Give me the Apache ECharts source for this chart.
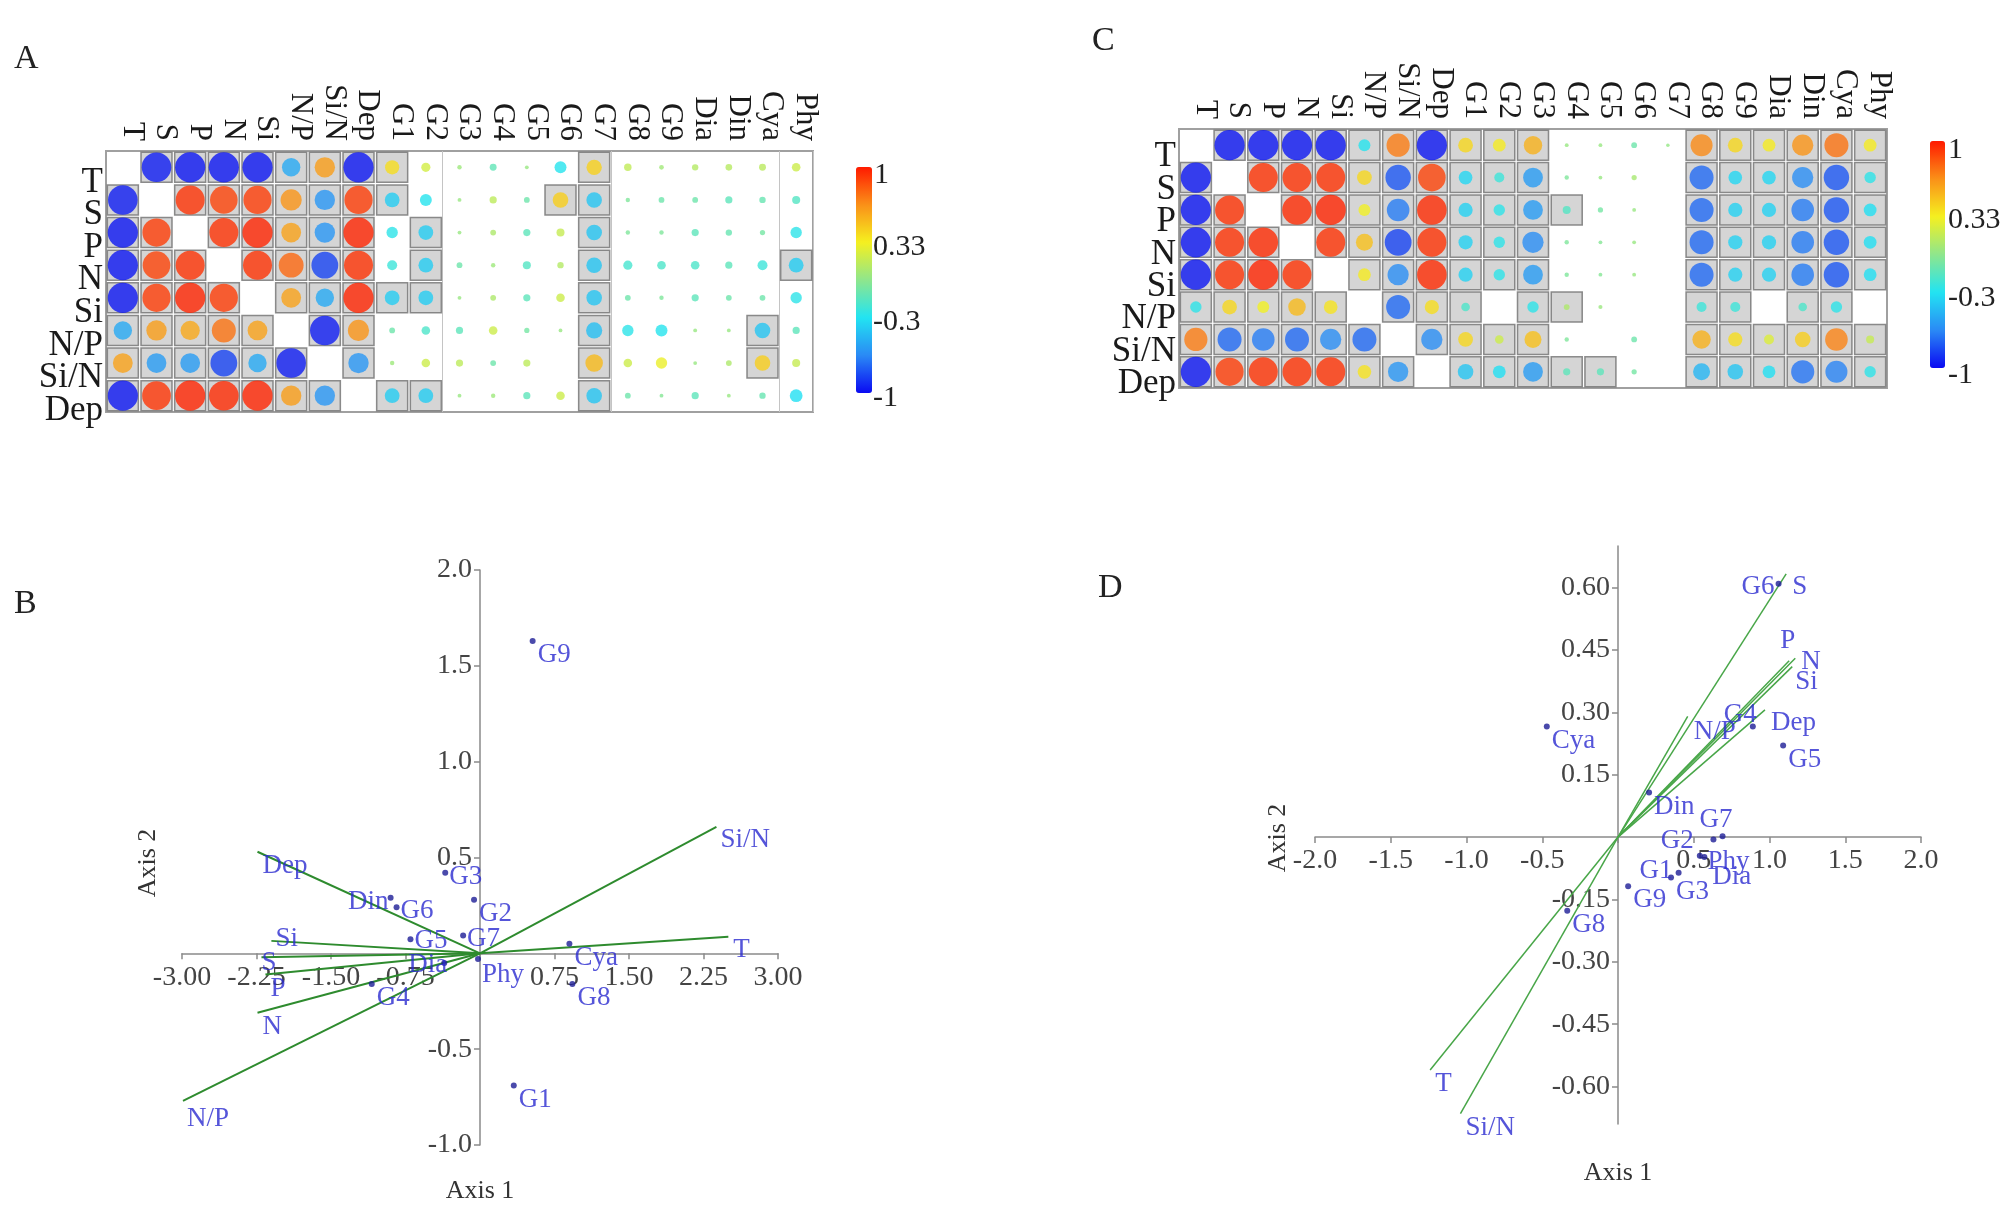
<!DOCTYPE html>
<html><head><meta charset="utf-8">
<script src="https://cdn.jsdelivr.net/npm/echarts@6/dist/echarts.min.js"></script>
<style>html,body{margin:0;padding:0;background:#fff}#c{width:2014px;height:1223px}</style>
</head><body><div id="c"></div>
<script>
// ---------- DATA ----------
const colLabels = ['T','S','P','N','Si','N/P','Si/N','Dep','G1','G2','G3','G4','G5','G6','G7','G8','G9','Dia','Din','Cya','Phy'];
const rowLabels = ['T','S','P','N','Si','N/P','Si/N','Dep'];

// Panel A: correlation coefficients (null = blank cell)
const corrA_T   = [null,-0.95,-0.97,-0.97,-0.97,-0.55,0.62,-0.97, 0.40,0.22,0.05,-0.14,0.03,-0.32,0.44, 0.16,0.06,0.12,0.13,0.14,0.20];
const corrA_S   = [-0.95,null,0.93,0.88,0.90,0.65,-0.62,0.90, -0.42,-0.32,0.03,0.15,-0.10,0.45,-0.45, -0.05,-0.10,-0.10,-0.15,-0.12,-0.18];
const corrA_P   = [-0.97,0.90,null,0.93,0.97,0.60,-0.62,0.97, -0.30,-0.42,0.03,0.10,-0.15,0.18,-0.45, -0.05,-0.05,-0.15,-0.12,-0.08,-0.30];
const corrA_N   = [-0.97,0.88,0.93,null,0.93,0.78,-0.85,0.93, -0.25,-0.42,-0.10,0.05,-0.18,0.12,-0.45, -0.22,-0.20,-0.20,-0.15,-0.25,-0.42];
const corrA_Si  = [-0.97,0.90,0.97,0.90,null,0.60,-0.55,0.97, -0.42,-0.42,0.03,0.10,-0.15,0.20,-0.45, -0.10,-0.05,-0.15,-0.10,-0.10,-0.30];
const corrA_NP  = [-0.55,0.62,0.58,0.75,0.60,null,-0.95,0.65, -0.10,-0.20,-0.15,0.20,-0.08,0.03,-0.47, -0.30,-0.32,0.03,0.03,-0.45,-0.15];
const corrA_SiN = [0.60,-0.60,-0.60,-0.85,-0.55,-0.95,null,-0.62, 0.05,0.20,0.15,-0.10,0.15,null,0.52, 0.20,0.30,0.03,0.10,0.45,0.18];
const corrA_Dep = [-0.97,0.92,0.97,0.95,0.97,0.62,-0.62,null, -0.42,-0.42,0.03,0.05,-0.15,0.20,-0.45, -0.10,-0.03,-0.15,0.03,-0.12,-0.35];
const sigA_T   = [0,1,1,1,1,1,1,1, 1,0,0,0,0,0,1, 0,0,0,0,0,0];
const sigA_S   = [1,0,1,1,1,1,1,1, 1,0,0,0,0,1,1, 0,0,0,0,0,0];
const sigA_P   = [1,1,0,1,1,1,1,1, 0,1,0,0,0,0,1, 0,0,0,0,0,0];
const sigA_N   = [1,1,1,0,1,1,1,1, 0,1,0,0,0,0,1, 0,0,0,0,0,1];
const sigA_Si  = [1,1,1,1,0,1,1,1, 1,1,0,0,0,0,1, 0,0,0,0,0,0];
const sigA_NP  = [1,1,1,1,1,0,1,1, 0,0,0,0,0,0,1, 0,0,0,0,1,0];
const sigA_SiN = [1,1,1,1,1,1,0,1, 0,0,0,0,0,0,1, 0,0,0,0,1,0];
const sigA_Dep = [1,1,1,1,1,1,1,0, 1,1,0,0,0,0,1, 0,0,0,0,0,0];

// Panel C
const corrC_T   = [null,-0.97,-0.97,-0.97,-0.97,-0.32,0.72,-0.97, 0.42,0.35,0.55,0.03,0.03,-0.10,0.02, 0.68,0.42,0.35,0.65,0.75,0.35];
const corrC_S   = [-0.97,null,0.93,0.93,0.93,0.42,-0.80,0.88, -0.38,-0.25,-0.60,-0.05,0.03,0.08,null, -0.75,-0.38,-0.38,-0.65,-0.80,-0.30];
const corrC_P   = [-0.97,0.93,null,0.95,0.97,0.32,-0.70,0.95, -0.40,-0.30,-0.60,-0.18,-0.08,0.03,null, -0.75,-0.40,-0.40,-0.70,-0.80,-0.35];
const corrC_N   = [-0.97,0.93,0.95,null,0.93,0.50,-0.85,0.93, -0.40,-0.30,-0.65,-0.05,-0.03,0.03,null, -0.75,-0.40,-0.40,-0.70,-0.80,-0.35];
const corrC_Si  = [-0.97,0.93,0.97,0.93,null,0.35,-0.65,0.95, -0.40,-0.30,-0.60,-0.05,-0.03,0.03,null, -0.75,-0.40,-0.40,-0.70,-0.80,-0.35];
const corrC_NP  = [-0.30,0.42,0.32,0.52,0.38,null,-0.75,0.40, -0.20,null,-0.30,0.10,0.04,null,null, -0.25,-0.25,null,-0.20,-0.30,null];
const corrC_SiN = [0.72,-0.75,-0.70,-0.75,-0.65,-0.75,null,-0.65, 0.42,0.20,0.50,-0.05,null,-0.10,null, 0.55,0.40,0.25,0.45,0.70,0.18];
const corrC_Dep = [-0.97,0.90,0.93,0.93,0.93,0.38,-0.62,null, -0.45,-0.35,-0.60,-0.15,-0.15,-0.08,null, -0.50,-0.45,-0.35,-0.72,-0.68,-0.30];
const sigC_T   = [0,1,1,1,1,1,1,1, 1,1,1,0,0,0,0, 1,1,1,1,1,1];
const sigC_S   = [1,0,1,1,1,1,1,1, 1,1,1,0,0,0,0, 1,1,1,1,1,1];
const sigC_P   = [1,1,0,1,1,1,1,1, 1,1,1,1,0,0,0, 1,1,1,1,1,1];
const sigC_N   = [1,1,1,0,1,1,1,1, 1,1,1,0,0,0,0, 1,1,1,1,1,1];
const sigC_Si  = [1,1,1,1,0,1,1,1, 1,1,1,0,0,0,0, 1,1,1,1,1,1];
const sigC_NP  = [1,1,1,1,1,0,1,1, 1,0,1,1,0,0,0, 1,1,0,1,1,0];
const sigC_SiN = [1,1,1,1,1,1,0,1, 1,1,1,0,0,0,0, 1,1,1,1,1,1];
const sigC_Dep = [1,1,1,1,1,1,1,0, 1,1,1,1,1,0,0, 1,1,1,1,1,1];

const colorbarLabels = ['1','0.33','-0.3','-1'];

// Panel B (Axis 1, Axis 2)
const envNames  = ['T','S','P','N','Si','N/P','Si/N','Dep'];
const bEnvX = [2.50,-2.20,-2.16,-2.24,-2.10,-2.99,2.38,-2.24];
const bEnvY = [0.086,-0.02,-0.11,-0.31,0.065,-0.77,0.66,0.53];
const taxaNames = ['G1','G2','G3','G4','G5','G6','G7','G8','G9','Dia','Din','Cya','Phy'];
const bTaxX = [0.34,-0.06,-0.35,-1.09,-0.70,-0.84,-0.17,0.93,0.53,-0.36,-0.90,0.90,-0.02];
const bTaxY = [-0.69,0.28,0.42,-0.16,0.074,0.24,0.093,-0.16,1.63,-0.05,0.29,0.05,-0.03];

// Panel D
const dEnvX = [-1.24,1.11,1.13,1.17,1.15,0.46,-1.04,0.97];
const dEnvY = [-0.56,0.633,0.424,0.43,0.41,0.29,-0.665,0.306];
const dTaxX = [0.40,0.54,0.35,0.89,1.09,1.06,0.69,-0.335,0.067,0.57,0.205,-0.47,0.63];
const dTaxY = [-0.086,-0.045,-0.097,0.266,0.22,0.609,0.002,-0.177,-0.118,-0.048,0.107,0.266,-0.006];
const dYTicks = [-0.60,-0.45,-0.30,-0.15,0.15,0.30,0.45,0.60];

// ---------- BUILD ----------
const FF = "'Liberation Serif','Times New Roman',serif";
const corrA = [corrA_T,corrA_S,corrA_P,corrA_N,corrA_Si,corrA_NP,corrA_SiN,corrA_Dep];
const sigA  = [sigA_T,sigA_S,sigA_P,sigA_N,sigA_Si,sigA_NP,sigA_SiN,sigA_Dep];
const corrC = [corrC_T,corrC_S,corrC_P,corrC_N,corrC_Si,corrC_NP,corrC_SiN,corrC_Dep];
const sigC  = [sigC_T,sigC_S,sigC_P,sigC_N,sigC_Si,sigC_NP,sigC_SiN,sigC_Dep];

function circleData(corr){const o=[];corr.forEach((r,ri)=>r.forEach((v,ci)=>{if(v!==null)o.push([ci,ri,v]);}));return o;}
function sigData(sig){const o=[];sig.forEach((r,ri)=>r.forEach((v,ci)=>{if(v)o.push([ci,ri]);}));return o;}

const jet = ['#0a0af2','#2a8af5','#22e4f2','#8fe68c','#f5f020','#fa9018','#ff1a00'];

// label placement style (offsets in px relative to point), default right-below
const bOff = {G3:[4,4],G6:[4,4],G5:[4,2],G7:[4,3],Din:[-2,4,'right'],Dia:[3,2,'right'],Phy:[4,16],
              Si:[4,-2],S:[0,6],'N/P':[4,18],T:[5,13],'Si/N':[4,13]};
const dOff = {G6:[-4,3,'right'],S:[6,13],P:[-9,-20],N:[6,4],Si:[3,15],Dep:[6,13],'N/P':[6,15],
              G4:[4,-12,'right'],G7:[-23,-16],G2:[-6,-15,'right'],G1:[-6,-2,'right'],Dia:[8,20],Phy:[-6,22],G3:[5,14]};

function labelFor(name, offs){
  const o = offs[name] || [5,14,'left'];
  return {show:true, formatter:name, position:'inside', align:o[2]||'left', verticalAlign:'middle',
    offset:[o[0],o[1]], color:'#2b2bcf', fontSize:27, fontFamily:FF};
}

function biplotSeries(gi, ex, ey, tx, ty, offs, lineColor, lineW){
  const s=[];
  envNames.forEach((n,i)=>{
    s.push({type:'line', xAxisIndex:gi, yAxisIndex:gi, data:[[0,0],[ex[i],ey[i]]], showSymbol:false, symbol:'none',
      lineStyle:{color:lineColor,width:lineW}, z:3, silent:true});
  });
  s.push({type:'scatter', xAxisIndex:gi, yAxisIndex:gi, symbolSize:1, itemStyle:{color:'rgba(0,0,0,0)'}, z:5,
    data: envNames.map((n,i)=>({value:[ex[i],ey[i]], label:labelFor(n,offs)}))});
  s.push({type:'scatter', xAxisIndex:gi, yAxisIndex:gi, symbolSize:6, itemStyle:{color:'#1d1d96'}, z:6,
    data: taxaNames.map((n,i)=>({value:[tx[i],ty[i]], label:labelFor(n,offs)}))});
  return s;
}

const catX = (gi, lh, extraSplit) => ({type:'category', gridIndex:gi, data:colLabels, position:'top',
  axisLine:{show:false}, axisTick:{show:false},
  axisLabel:{rotate:90, fontSize:31, fontFamily:FF, color:'#1a1a1a', margin:10, verticalAlign:'bottom', lineHeight:lh, interval:0},
  splitLine:{show:!!extraSplit, interval:(i)=>extraSplit?extraSplit.indexOf(i)>=0:false, lineStyle:{color:'#c4c4c4',width:1}}});
const catY = (gi, lh) => ({type:'category', gridIndex:gi, data:rowLabels, inverse:true,
  axisLine:{show:false}, axisTick:{show:false},
  axisLabel:{fontSize:35, fontFamily:FF, color:'#1a1a1a', margin:3, verticalAlign:'top', lineHeight:lh, interval:0},
  splitLine:{show:false}});

// grids for the biplots
const gB = {left:182, top:570, width:596, height:575};
const gD = {left:1315, top:546, width:606, height:578};
const bX = [-3,3], bY = [-1,2], dX = [-2,2], dY = [-0.69,0.70];
// shift axes so that they cross at the origin (offset from grid edge)
const xOff = (g,yr)=>-(g.height*(0-yr[0])/(yr[1]-yr[0]));
const yOff = (g,xr)=>-(g.width*(0-xr[0])/(xr[1]-xr[0]));

const axisCommon = {axisLine:{onZero:false, lineStyle:{color:'#8a8a8a', width:1.5}},
  axisTick:{length:6, lineStyle:{color:'#8a8a8a', width:1.5}}, splitLine:{show:false}};
const lbl = (dec,margin)=>({formatter:v=>Math.abs(v)<1e-9?'':v.toFixed(dec), fontSize:28, fontFamily:FF, color:'#444', margin});

const sq = (gi, sig, size)=>({type:'scatter', xAxisIndex:gi, yAxisIndex:gi, symbol:'rect', symbolSize:size,
  itemStyle:{color:'#cbcbcb', borderColor:'#707070', borderWidth:1.5}, data:sigData(sig), z:2, silent:true});
const circ = (gi, corr)=>({type:'scatter', xAxisIndex:gi, yAxisIndex:gi, symbol:'circle',
  symbolSize:(v)=>3+Math.abs(v[2])*28, data:circleData(corr), z:4, silent:true});

function txt(t,x,y,size,extra){return Object.assign({type:'text', x, y, style:Object.assign({text:t, font:size+'px '+FF, fill:'#222', align:'left', verticalAlign:'middle'}, extra&&extra.style||{})}, extra&&extra.el||{});}

const option = {
  animation:false,
  backgroundColor:'#fff',
  grid:[
    {left:106, top:151, width:707, height:261, show:true, borderColor:'#a0a0a0', borderWidth:2, backgroundColor:'#fff'},
    {left:1179, top:129, width:708, height:259, show:true, borderColor:'#a0a0a0', borderWidth:2, backgroundColor:'#fff'},
    gB, gD
  ],
  xAxis:[
    catX(0, 18, [10,15,20]),
    catX(1, 18, null),
    Object.assign({type:'value', gridIndex:2, min:bX[0], max:bX[1], interval:0.75, position:'bottom', offset:xOff(gB,bY),
      axisLabel:lbl(2,10)}, axisCommon),
    Object.assign({type:'value', gridIndex:3, min:dX[0], max:dX[1], interval:0.5, position:'bottom', offset:xOff(gD,dY),
      axisLabel:lbl(1,10)}, axisCommon)
  ],
  yAxis:[
    catY(0, 30),
    catY(1, 24),
    Object.assign({type:'value', gridIndex:2, min:bY[0], max:bY[1], interval:0.5, position:'left', offset:yOff(gB,bX),
      axisLabel:lbl(1,8)}, axisCommon),
    Object.assign({type:'value', gridIndex:3, min:dY[0], max:dY[1], position:'left', offset:yOff(gD,dX)},
      axisCommon,
      {axisTick:{length:6, lineStyle:{color:'#8a8a8a', width:1.5}, customValues:dYTicks},
       axisLabel:Object.assign(lbl(2,8),{customValues:dYTicks})})
  ],
  visualMap:[
    {type:'continuous', min:-1, max:1, seriesIndex:1, dimension:2, left:856, top:167, itemWidth:16, itemHeight:226,
     calculable:false, text:null, padding:0, inRange:{color:jet}},
    {type:'continuous', min:-1, max:1, seriesIndex:3, dimension:2, left:1930, top:141, itemWidth:15, itemHeight:227,
     calculable:false, text:null, padding:0, inRange:{color:jet}}
  ],
  series:[
    sq(0, sigA, [31,30]),
    circ(0, corrA),
    sq(1, sigC, [31,30]),
    circ(1, corrC),
    ...biplotSeries(2, bEnvX, bEnvY, bTaxX, bTaxY, bOff, '#2e8b2e', 2),
    ...biplotSeries(3, dEnvX, dEnvY, dTaxX, dTaxY, dOff, '#48a648', 1.5)
  ],
  graphic:[
    txt('A',14,59,34), txt('C',1092,41,34), txt('B',14,604,34), txt('D',1098,588,34),
    txt(colorbarLabels[0],874,175,30), txt(colorbarLabels[1],873,247,30), txt(colorbarLabels[2],873,322,30), txt(colorbarLabels[3],873,398,30),
    txt(colorbarLabels[0],1948,150,30), txt(colorbarLabels[1],1948,220,30), txt(colorbarLabels[2],1948,298,30), txt(colorbarLabels[3],1948,375,30),
    txt('Axis 1',480,1191,26,{style:{align:'center', fill:'#333'}}),
    txt('Axis 2',148,863,26,{style:{align:'center', fill:'#333'}, el:{rotation:Math.PI/2}}),
    txt('Axis 1',1618,1173,26,{style:{align:'center', fill:'#333'}}),
    txt('Axis 2',1278,838,26,{style:{align:'center', fill:'#333'}, el:{rotation:Math.PI/2}})
  ]
};
const chart = echarts.init(document.getElementById('c'), null, {renderer:'canvas'});
chart.setOption(option);
</script></body></html>
